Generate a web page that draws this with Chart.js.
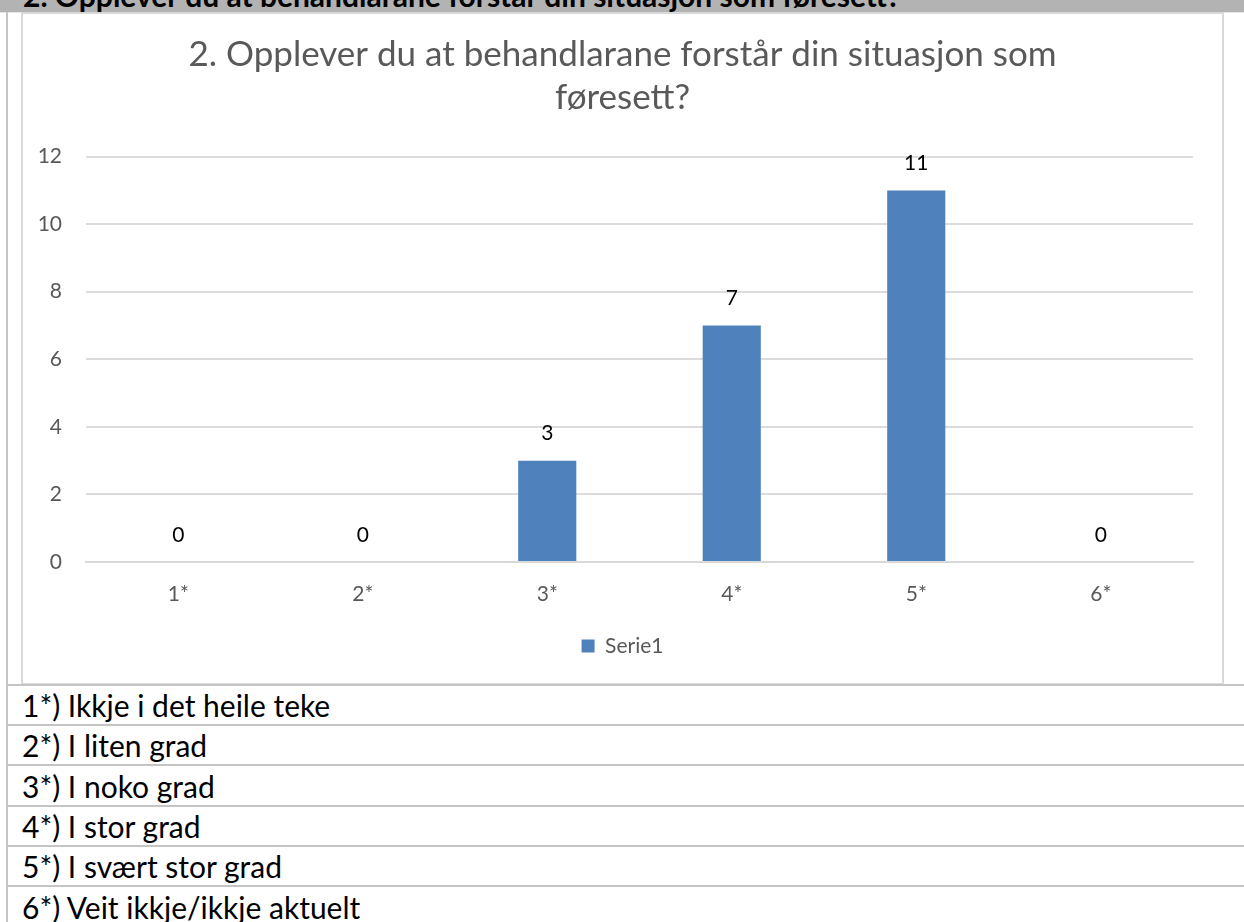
<!DOCTYPE html>
<html>
<head>
<meta charset="utf-8">
<script src="https://cdn.jsdelivr.net/npm/chart.js@4/dist/chart.umd.min.js"></script>
<style>
  html, body { margin:0; padding:0; background:#fff; }
  body { width:1244px; height:922px; position:relative; overflow:hidden; font-family: Lato, "Open Sans", sans-serif; }
  #hdr { position:absolute; left:0; top:0; width:1244px; height:12px; background:#b3b3b3; overflow:hidden; }
  #hdr span { position:absolute; left:23px; top:-20px; font: bold 30px/30px Lato, sans-serif; color:#000; white-space:nowrap; }
  #hdrline { position:absolute; left:0; top:12px; width:1244px; height:1px; background:#e4e4e4; }
  #vline { position:absolute; left:6px; top:12px; width:2px; height:910px; background:#c4c4c4; }
  #box { position:absolute; left:21px; top:12px; width:1203px; height:673px; box-sizing:border-box; border:2px solid #d9d9d9; background:#fff; }
  #box canvas { display:block; }
  .row { position:absolute; left:8px; width:1236px; height:40px; box-sizing:border-box; border-bottom:2px solid #c4c4c4; font: 30px/38px Lato, sans-serif; color:#000; padding-left:14px; white-space:nowrap; }
  #tline { position:absolute; left:8px; top:684px; width:1236px; height:2px; background:#c4c4c4; }
</style>
</head>
<body>
<div id="hdr"><span id="hdrText"></span></div>
<div id="hdrline"></div>
<div id="vline"></div>
<div id="box"><canvas id="c" width="1199" height="669"></canvas></div>
<div id="tline"></div>
<div id="rows"></div>
<script>
// ---- data ----
const headerText = '2. Opplever du at behandlarane forstår din situasjon som føresett?';
const titleLines = ['2. Opplever du at behandlarane forstår din situasjon som', 'føresett?'];
const categories = ['1*', '2*', '3*', '4*', '5*', '6*'];
const seriesName = 'Serie1';
const values = [0, 0, 3, 7, 11, 0];
const yMin = 0, yMax = 12, yStep = 2;
const tableRows = [
  '1*) Ikkje i det heile teke',
  '2*) I liten grad',
  '3*) I noko grad',
  '4*) I stor grad',
  '5*) I svært stor grad',
  '6*) Veit ikkje/ikkje aktuelt'
];

document.getElementById('hdrText').textContent = headerText;
const rowsEl = document.getElementById('rows');
tableRows.forEach((t, i) => {
  const d = document.createElement('div');
  d.className = 'row';
  d.style.top = (686 + i * 40.3) + 'px';
  d.textContent = t;
  rowsEl.appendChild(d);
});

const grey = '#595959';
const dataLabels = {
  id: 'dataLabels',
  afterDatasetsDraw(chart) {
    const ctx = chart.ctx;
    const meta = chart.getDatasetMeta(0);
    ctx.save();
    ctx.fillStyle = '#000';
    ctx.font = '21px Lato, sans-serif';
    ctx.textAlign = 'center';
    ctx.textBaseline = 'middle';
    meta.data.forEach((bar, i) => {
      ctx.fillText(String(values[i]), bar.x, bar.y - 27);
    });
    ctx.restore();
  }
};

new Chart(document.getElementById('c'), {
  type: 'bar',
  data: {
    labels: categories,
    datasets: [{
      label: seriesName,
      data: values,
      backgroundColor: '#4f81bd',
      borderWidth: 0,
      barPercentage: 0.315,
      categoryPercentage: 1.0
    }]
  },
  options: {
    responsive: false,
    animation: false,
    devicePixelRatio: 1,
    layout: { padding: { left: 0, right: 0, top: 0, bottom: 16.5 } },
    plugins: {
      title: {
        display: true,
        text: titleLines,
        color: grey,
        font: { family: 'Lato, sans-serif', size: 35, weight: 'normal', lineHeight: 1.23 },
        padding: { top: 19.5, bottom: 37 }
      },
      legend: {
        display: true,
        position: 'bottom',
        labels: {
          color: grey,
          font: { family: 'Lato, sans-serif', size: 21 },
          boxWidth: 13,
          boxHeight: 13,
          padding: 10
        }
      },
      tooltip: { enabled: false }
    },
    scales: {
      x: {
        grid: { display: false },
        border: { display: true, color: '#d9d9d9', width: 2 },
        ticks: { color: grey, font: { family: 'Lato, sans-serif', size: 21 }, padding: 12 },
        afterFit(s) { s.height = 63.5; }
      },
      y: {
        min: yMin, max: yMax,
        grid: { color: '#dcdcdc', lineWidth: 2, drawTicks: false },
        border: { display: false },
        ticks: { stepSize: yStep, color: grey, font: { family: 'Lato, sans-serif', size: 21 }, padding: 24 },
        afterFit(s) { s.width = 63; }
      },
      yRight: {
        type: 'linear',
        position: 'right',
        display: true,
        grid: { display: false, drawTicks: false },
        border: { display: false },
        ticks: { display: false },
        afterFit(s) { s.width = 29; }
      }
    }
  },
  plugins: [dataLabels]
});
</script>
</body>
</html>
